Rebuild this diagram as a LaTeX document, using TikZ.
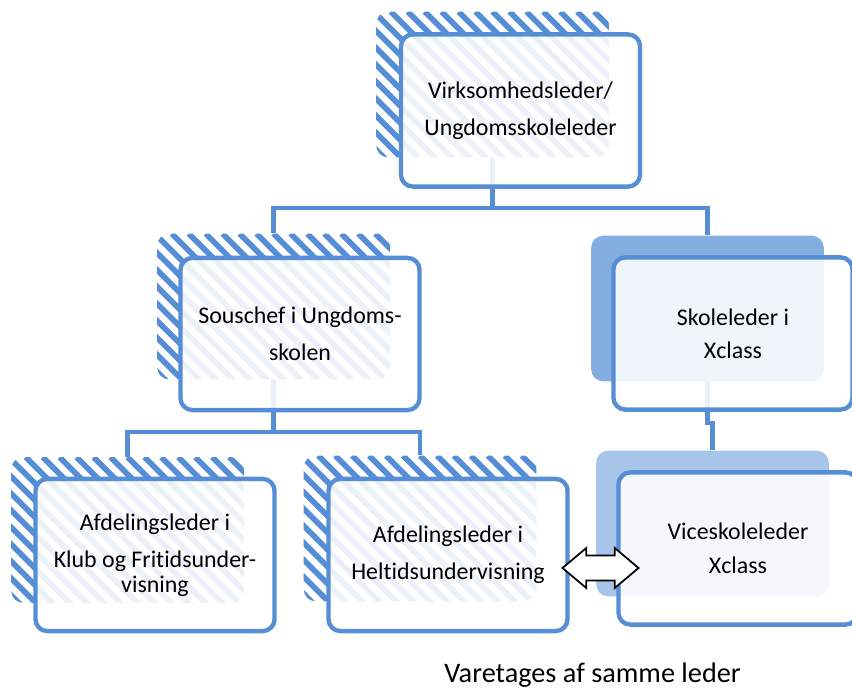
\documentclass[tikz,border=0pt]{standalone}
\usepackage{fontspec}
\setmainfont{Carlito}[Ligatures={NoCommon,NoRequired,NoContextual}]
\usetikzlibrary{shapes.arrows,backgrounds,calc}

\definecolor{lineblue}{HTML}{558ED5}
\definecolor{darkshade}{HTML}{84AEE0}
\definecolor{lightshade}{HTML}{A7C4E9}

\newcommand\boxfont{\fontsize{11}{17}\selectfont}
\newcommand\notefont{\fontsize{13}{15}\selectfont}

\tikzset{
	conn/.style={draw=lineblue, line width=2pt},
	front/.style={draw=lineblue, line width=2pt, rounded corners=5.5pt, fill=white, fill opacity=0.88, text opacity=1,
		minimum width=110pt, minimum height=70pt, inner sep=0pt, align=center, font=\boxfont},
	shade/.style={rounded corners=5.5pt, minimum width=107pt, minimum height=67pt, inner sep=0pt},
	hatch/.style={shade, fill=white, path picture={
		\foreach \i in {-16,...,16}
			\draw[lineblue, line width=2.6pt] ($(path picture bounding box.north)+(\i*7.8pt,0pt)$) -- ++(90pt,-90pt);
	}},
	dblarrow/.style={double arrow, draw=black, fill=white, line width=0.8pt, minimum height=35pt,
		inner sep=5.3pt, double arrow head extend=3.45pt, double arrow tip angle=80},
}

\begin{document}
\begin{tikzpicture}[x=0.46pt, y=-0.46pt]
		\useasboundingbox (0, 0) rectangle (852, 689);
		
		% shadows behind the boxes
		\node[hatch] (top-s) at (492.5, 84.5) {};
		\node[hatch] (sous-s) at (273.5, 306.5) {};
		\node[hatch] (afd1-s) at (127.5, 530) {};
		\node[hatch] (afd2-s) at (420, 528.5) {};
		\node[shade, fill=darkshade] (skole-s) at (707.5, 308.5) {};
		\node[shade, fill=lightshade] (vice-s) at (712.5, 523.5) {};
		
		% boxes
		\node[front] (top) at (520.5, 110.5) {Virksomhedsleder/\\Ungdomsskoleleder};
		\node[front] (sous) at (300, 334) {Souschef i Ungdoms-\\skolen};
		\node[front] (skole) at (733, 333.5) {Skoleleder i\\[-2pt]Xclass};
		\node[front] (afd1) at (155, 555) {Afdelingsleder i\\Klub og Fritidsunder-\\[-5.5pt]visning};
		\node[front] (afd2) at (448, 555) {Afdelingsleder i\\Heltidsundervisning};
		\node[front] (vice) at (738, 548.5) {Viceskoleleder\\[-1.4pt]Xclass};
		
		\coordinate (bus1) at (492.5, 208);
		\coordinate (bus2) at (273.5, 432);
		\coordinate (jog) at (710, 423);
		
		% connectors
		\begin{scope}[on background layer]
			\draw[conn] (top-s.center) -- (bus1);
			\draw[conn] (sous-s.north) |- (bus1) -| (skole-s.north);
			\draw[conn] (sous-s.center) -- (bus2);
			\draw[conn] (afd1-s.north) |- (bus2) -| (afd2-s.north);
			\draw[conn] (skole-s.center) |- (jog) -| (vice-s.north);
		\end{scope}
		
		\node[dblarrow] (same) at (600.5, 568) {};
		
		\node[font=\notefont, anchor=base] (note) at (592.5, 682.5) {Varetages af samme leder};
	\end{tikzpicture}
\end{document}
